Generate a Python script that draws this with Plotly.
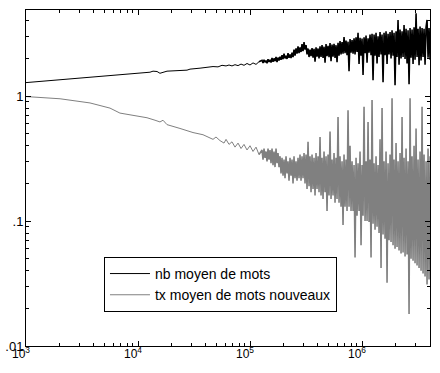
import numpy as np
import plotly.graph_objects as go

# ---- black series: "nb moyen de mots" ----
black_smooth_x = [1000, 2323, 4584, 9016, 12790, 13610, 14790, 15710, 17060, 18150,
                  27380, 29130, 35800, 42200, 46750, 51800, 56230, 61100, 64940, 69050,
                  73450, 78150, 83150, 88400, 94000, 100000, 106400, 113200, 120300]
black_smooth_y = [1.28, 1.36, 1.43, 1.50, 1.55, 1.58, 1.57, 1.52, 1.56, 1.58,
                  1.61, 1.64, 1.67, 1.71, 1.72, 1.71, 1.76, 1.74, 1.77, 1.74,
                  1.78, 1.75, 1.80, 1.76, 1.82, 1.77, 1.84, 1.79, 1.88]

black_noisy_y = [
    1.93, 1.84, 1.95, 1.86, 1.92, 1.83, 1.97, 1.87, 1.95, 1.85,
    2.02, 1.88, 2.00, 1.90, 2.05, 1.87, 2.03, 1.92, 2.06, 1.95,
    2.12, 1.97, 2.18, 2.00, 2.10, 1.98, 2.20, 2.02, 2.15, 2.01,
    2.22, 2.05, 2.35, 2.10, 2.40, 2.18, 2.50, 2.20, 2.45, 2.25,
    2.60, 2.28, 2.70, 2.35, 2.55, 2.15, 2.40, 2.05, 2.35, 2.08,
    2.42, 2.03, 2.38, 1.88, 2.45, 2.06, 2.40, 2.00, 2.50, 2.05,
    2.55, 2.02, 2.48, 1.85, 2.60, 2.08, 2.52, 2.04, 2.65, 1.90,
    2.58, 2.06, 2.62, 2.02, 2.55, 1.86, 2.66, 2.10, 2.75, 2.15,
    2.70, 2.18, 2.96, 2.20, 2.78, 2.12, 2.72, 1.58, 2.85, 2.22,
    2.80, 2.18, 2.90, 2.15, 2.95, 2.25, 3.20, 1.80, 2.92, 2.10,
    2.88, 1.47, 2.95, 2.20, 3.05, 1.85, 2.90, 2.22, 3.10, 2.12,
    3.15, 1.34, 3.10, 2.10, 3.20, 1.82, 3.00, 2.05, 3.25, 2.15,
    3.10, 1.29, 3.20, 2.12, 3.30, 1.80, 3.15, 2.15, 3.25, 2.00,
    3.35, 2.10, 3.20, 1.22, 3.30, 2.05, 4.06, 1.78, 3.40, 2.00,
    3.30, 2.05, 3.70, 1.98, 3.45, 1.82, 3.35, 1.24, 3.50, 2.02,
    3.40, 1.80, 3.55, 1.95, 4.60, 2.05, 3.45, 1.76, 3.60, 1.92,
    3.50, 2.05, 3.45, 1.78, 3.55, 4.06, 2.02, 3.50, 1.95]

# ---- grey series: "tx moyen de mots nouveaux" ----
grey_smooth_x = [1000, 2014, 3728, 5623, 6900, 9016, 12030, 14190, 15710, 16720,
                 18150, 23700, 30980, 38040, 43950, 46750, 49700, 53900, 58600, 61100,
                 64940, 69050, 73450, 78150, 83150, 88400, 94000, 100000, 106400, 113200,
                 120300]
grey_smooth_y = [0.99, 0.95, 0.88, 0.80, 0.73, 0.70, 0.67, 0.64, 0.62, 0.64,
                 0.59, 0.55, 0.51, 0.49, 0.465, 0.45, 0.47, 0.44, 0.42, 0.45,
                 0.41, 0.43, 0.39, 0.42, 0.38, 0.41, 0.37, 0.40, 0.36, 0.39,
                 0.34]

grey_noisy_y = [
    0.37, 0.31, 0.38, 0.32, 0.36, 0.30, 0.38, 0.31, 0.37, 0.29,
    0.38, 0.28, 0.36, 0.27, 0.38, 0.29, 0.35, 0.27, 0.33, 0.24,
    0.32, 0.23, 0.31, 0.22, 0.33, 0.24, 0.30, 0.21, 0.32, 0.23,
    0.31, 0.20, 0.33, 0.22, 0.30, 0.21, 0.32, 0.22, 0.34, 0.21,
    0.33, 0.22, 0.35, 0.20, 0.34, 0.18, 0.43, 0.19, 0.33, 0.17,
    0.34, 0.18, 0.32, 0.16, 0.35, 0.18, 0.33, 0.17, 0.47, 0.16,
    0.32, 0.15, 0.36, 0.17, 0.33, 0.12, 0.34, 0.16, 0.52, 0.15,
    0.31, 0.16, 0.35, 0.14, 0.32, 0.15, 0.68, 0.14, 0.33, 0.13,
    0.30, 0.093, 0.34, 0.13, 0.31, 0.12, 0.77, 0.13, 0.40, 0.12,
    0.30, 0.12, 0.28, 0.051, 0.32, 0.11, 0.29, 0.12, 0.36, 0.064,
    0.28, 0.11, 0.82, 0.10, 0.30, 0.10, 0.62, 0.098, 0.31, 0.051,
    0.93, 0.095, 0.29, 0.085, 0.33, 0.090, 0.28, 0.080, 0.45, 0.042,
    0.80, 0.078, 0.30, 0.072, 0.36, 0.032, 0.29, 0.070, 0.34, 0.068,
    0.96, 0.064, 0.31, 0.060, 0.42, 0.062, 0.30, 0.058, 0.35, 0.055,
    0.68, 0.056, 0.32, 0.052, 0.38, 0.054, 0.30, 0.018, 0.96, 0.050,
    0.33, 0.048, 0.40, 0.046, 0.55, 0.044, 0.31, 0.042, 0.36, 0.040,
    0.82, 0.038, 0.34, 0.036, 0.30, 0.031, 0.38, 0.034, 0.33]

# sampling grid of the noisy part (same for both series)
noisy_x_start, noisy_x_end = 1.28e5, 4.05e6

x_tickvals = [1e3, 1e4, 1e5, 1e6]
x_ticktext = ["10<sup>3</sup>", "10<sup>4</sup>", "10<sup>5</sup>", "10<sup>6</sup>"]
y_tickvals = [0.01, 0.1, 1]
y_ticktext = [".01", ".1", "1"]

names = ["nb moyen de mots", "tx moyen de mots nouveaux"]
colors = ["black", "#808080"]

noisy_x = list(np.geomspace(noisy_x_start, noisy_x_end, len(black_noisy_y)))

fig = go.Figure()
series = [(black_smooth_x, black_smooth_y, black_noisy_y),
          (grey_smooth_x, grey_smooth_y, grey_noisy_y)]
for i, (sx, sy, ny) in enumerate(series):
    fig.add_trace(go.Scatter(x=sx, y=sy, mode="lines", name=names[i],
                             legendgroup=names[i],
                             line=dict(color=colors[i], width=1)))
    fig.add_trace(go.Scatter(x=[sx[-1]] + noisy_x, y=[sy[-1]] + ny, mode="lines",
                             name=names[i], legendgroup=names[i], showlegend=False,
                             line=dict(color=colors[i], width=1.6)))

minor_vals = [m * 10 ** k for k in range(2, 7) for m in range(2, 10)]
minor_vals_y = [m * 10.0 ** k for k in range(-3, 1) for m in range(2, 10)]

axis_common = dict(showline=True, linecolor="black", linewidth=1, mirror="ticks",
                   ticks="inside", ticklen=5, tickcolor="black", tickwidth=1,
                   showgrid=False, zeroline=False, automargin=False)

fig.update_xaxes(type="log", range=[3, 6.607], tickmode="array",
                 tickvals=x_tickvals, ticktext=x_ticktext,
                 ticklabelshift=-5, ticklabelstandoff=-3,
                 tickfont=dict(family="Liberation Sans, Arial, sans-serif", size=12, color="black"),
                 minor=dict(tickmode="array", tickvals=minor_vals, ticks="inside",
                            ticklen=3, tickcolor="black", showgrid=False),
                 **axis_common)
fig.update_yaxes(type="log", range=[-2, 0.688], tickmode="array",
                 tickvals=y_tickvals, ticktext=y_ticktext,
                 ticklabelstandoff=-1,
                 tickfont=dict(family="Liberation Sans, Arial, sans-serif", size=13, color="black"),
                 minor=dict(tickmode="array", tickvals=minor_vals_y, ticks="inside",
                            ticklen=3, tickcolor="black", showgrid=False),
                 **axis_common)

fig.update_layout(
    width=440, height=373,
    margin=dict(l=26, r=10, t=10, b=27, pad=0),
    paper_bgcolor="white", plot_bgcolor="white",
    font=dict(family="Liberation Sans, Arial, sans-serif", size=14, color="black"),
    showlegend=True,
    legend=dict(x=0.193, y=0.265, xanchor="left", yanchor="top",
                bordercolor="black", borderwidth=1, bgcolor="white",
                font=dict(size=14), tracegroupgap=0, itemwidth=40),
)

fig.write_html("out.html", config={"displayModeBar": False},
               post_script="document.body.style.margin='0';document.body.style.overflow='hidden';")
